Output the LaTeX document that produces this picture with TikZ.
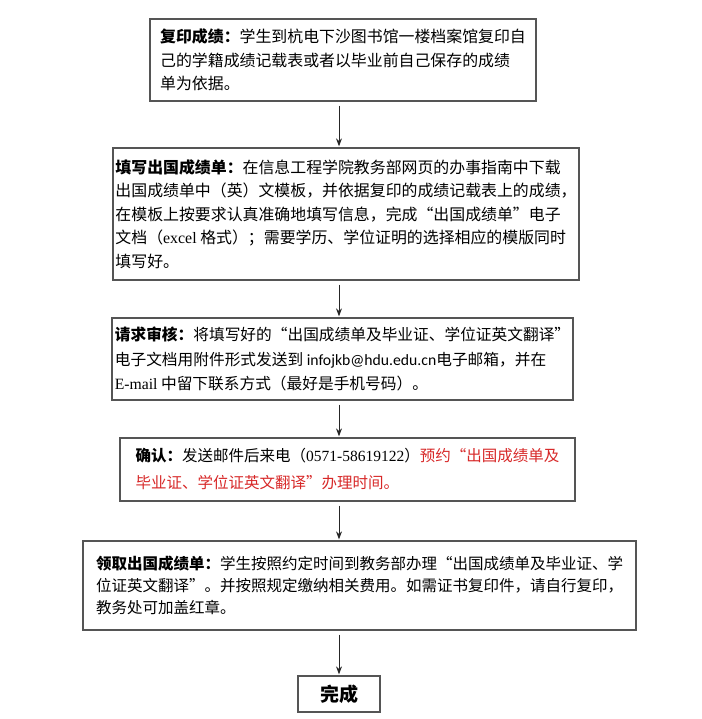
\documentclass[tikz,border=0pt]{standalone}
\usepackage{fontspec}
\setmainfont{Noto Sans CJK SC}
\newfontfamily\latinfont{Liberation Serif}
\newfontfamily\mailfont{Carlito}
\usetikzlibrary{arrows.meta}
\definecolor{framegray}{RGB}{85,85,85}
\definecolor{notered}{RGB}{215,40,40}
\tikzset{
  stepbox/.style={draw=framegray, line width=1.3pt, align=left, inner sep=0pt,
    font=\fontsize{15.5}{23.5}\selectfont},
  flow/.style={-{Stealth[length=8pt,width=6pt]}, line width=1pt, draw=black!85,
    shorten <=4pt, shorten >=1pt}
}

\begin{document}
\begin{tikzpicture}[x=1pt,y=-1pt]
			%%%%% START %%%%%
			\useasboundingbox (0,0) rectangle (701,719);
			
			\node[stepbox, minimum width=386, minimum height=82,
			  font=\fontsize{15.9}{23.5}\selectfont] (copy) at (343,60)
			{\textbf{复印成绩：}学生到杭电下沙图书馆一楼档案馆复印自\\
			 己的学籍成绩记载表或者以毕业前自己保存的成绩\\
			 单为依据。};
			
			\node[stepbox, minimum width=466, minimum height=132,
			  font=\fontsize{15.9}{23.5}\selectfont] (fillin) at (346,214)
			{\textbf{填写出国成绩单：}在信息工程学院教务部网页的办事指南中下载\\
			 出国成绩单中（英）文模板，并依据复印的成绩记载表上的成绩，\\
			 在模板上按要求认真准确地填写信息，完成“出国成绩单”电子\\
			 文档（{\latinfont excel} 格式）；需要学历、学位证明的选择相应的模版同时\\
			 填写好。};
			
			\node[stepbox, minimum width=461, minimum height=82,
			  font=\fontsize{15.7}{24.5}\selectfont] (review) at (342.5,359)
			{\textbf{请求审核：}将填写好的“出国成绩单及毕业证、学位证英文翻译”\\
			 电子文档用附件形式发送到 {\mailfont infojkb@hdu.edu.cn}电子邮箱，并在\\
			 {\latinfont E-mail} 中留下联系方式（最好是手机号码）。};
			
			\node[stepbox, minimum width=455, minimum height=63,
			  font=\fontsize{15.5}{27}\selectfont] (confirm) at (347.5,469.5)
			{\textbf{确认：}发送邮件后来电（{\latinfont 0571-58619122}）\textcolor{notered}{预约“出国成绩单及}\\
			 \textcolor{notered}{毕业证、学位证英文翻译”办理时间。}};
			
			\node[stepbox, minimum width=553, minimum height=89,
			  font=\fontsize{15.5}{22}\selectfont] (collect) at (359.5,585.5)
			{\textbf{领取出国成绩单：}学生按照约定时间到教务部办理“出国成绩单及毕业证、学\\
			 位证英文翻译”。并按照规定缴纳相关费用。如需证书复印件，请自行复印，\\
			 教务处可加盖红章。};
			
			\node[stepbox, minimum width=82, minimum height=36,
			  font=\fontsize{19}{22}\selectfont\bfseries] (done) at (339,694) {完成};
			
			\draw[flow] (copy.south -| done) -- (fillin.north -| done);
			\draw[flow] (fillin.south -| done) -- (review.north -| done);
			\draw[flow] (review.south -| done) -- (confirm.north -| done);
			\draw[flow] (confirm.south -| done) -- (collect.north -| done);
			\draw[flow] (collect.south -| done) -- (done.north);
			
			%%%%% END %%%%%
		\end{tikzpicture}
\end{document}
